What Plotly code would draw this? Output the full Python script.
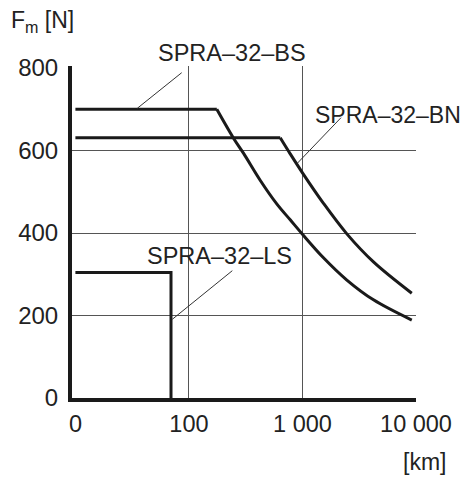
import plotly.graph_objects as go

# Data (distance in km, force in N)
# SPRA-32-BS: constant part, then decline
bs_flat_km = [10, 176]
bs_flat_n = [700, 700]
bs_curve_km = [176, 247, 303, 424, 596, 780, 1000, 1531, 2460, 4220, 9180]
bs_curve_n = [700, 630, 593, 528, 470, 432, 397, 340, 286, 238, 189]

# SPRA-32-BN
bn_flat_km = [10, 637]
bn_flat_n = [631, 631]
bn_curve_km = [637, 780, 1000, 1531, 2460, 4220, 9180]
bn_curve_n = [631, 592, 546, 472, 398, 330, 254]

# SPRA-32-LS
ls_km = [10, 69.5, 69.5]
ls_n = [304, 304, 0]

x_tickvals = [10, 100, 1000, 10000]
x_ticktext = ["0", "100", "1 000", "10 000"]
x_gridvals = [100, 1000]
y_tickvals = [0, 200, 400, 600, 800]
y_gridvals = [200, 400, 600]

FONT = "Liberation Sans, Arial, sans-serif"
TXT = "#222222"
LINE = "#1a1a1a"
GRID = "#555555"

fig = go.Figure()
for xs, ys in [(bs_flat_km, bs_flat_n), (bn_flat_km, bn_flat_n), (ls_km, ls_n)]:
    fig.add_trace(go.Scatter(x=xs, y=ys, mode="lines",
                             line=dict(color=LINE, width=3),
                             showlegend=False, hoverinfo="skip"))
for xs, ys in [(bs_curve_km, bs_curve_n), (bn_curve_km, bn_curve_n)]:
    fig.add_trace(go.Scatter(x=xs, y=ys, mode="lines",
                             line=dict(color=LINE, width=3, shape="spline", smoothing=1),
                             showlegend=False, hoverinfo="skip"))

OFF = 8  # page body margin
W, H = 468 - 2 * OFF, 484 - 2 * OFF
# plot area in window pixels: x 72..416, y 66..398
L = 72 - OFF
T = 66 - OFF
R = W - (416 - OFF)
B = H - (398 - OFF)

fig.update_layout(
    width=W, height=H,
    margin=dict(l=L, r=R, t=T, b=B, pad=0, autoexpand=False),
    paper_bgcolor="white", plot_bgcolor="white",
    font=dict(family=FONT, size=23, color=TXT),
    showlegend=False,
)
fig.update_xaxes(
    type="log", range=[0.97, 4.0], automargin=False,
    tickvals=x_tickvals, ticktext=x_ticktext,
    showgrid=False,
    minor=dict(tickvals=x_gridvals, showgrid=True, gridcolor=GRID, gridwidth=1, ticks=""),
    showline=True, linecolor=LINE, linewidth=4,
    ticks="", zeroline=False, ticklabelstandoff=2,
    tickfont=dict(size=23.5, color=TXT, family=FONT),
)
fig.update_yaxes(
    range=[0, 805], automargin=False,
    tickvals=y_tickvals,
    showgrid=False,
    minor=dict(tickvals=y_gridvals, showgrid=True, gridcolor=GRID, gridwidth=1, ticks=""),
    showline=True, linecolor=LINE, linewidth=4,
    ticks="", zeroline=False, ticklabelstandoff=5,
    tickfont=dict(size=24, color=TXT, family=FONT),
)

pw = W - L - R
ph = H - T - B
def px(X):
    return (X - OFF - L) / pw
def py(Y):
    return (H - B - (Y - OFF)) / ph

# leader lines (window pixel coords)
for (xa, ya, xb, yb) in [(181.7, 72.7, 137.3, 108.3),
                         (341, 117.7, 297.3, 163.3),
                         (232.3, 270.7, 172.3, 319.3)]:
    fig.add_shape(type="line", xref="paper", yref="paper",
                  x0=px(xa), y0=py(ya), x1=px(xb), y1=py(yb),
                  line=dict(color="#333333", width=1))

labels = [("SPRA–32–BS", 232, 53, 23.5), ("SPRA–32–BN", 387.5, 115, 23), ("SPRA–32–LS", 219, 256, 23.5)]
for t, X, Y, s in labels:
    fig.add_annotation(text=t, xref="paper", yref="paper", x=px(X), y=py(Y),
                       xanchor="center", yanchor="middle", showarrow=False,
                       font=dict(size=s, color=TXT, family=FONT))

fig.add_annotation(text="F<sub>m</sub> [N]", xref="paper", yref="paper",
                   x=px(9), y=py(22), xanchor="left", yanchor="middle",
                   showarrow=False, font=dict(size=23, color=TXT, family=FONT))
fig.add_annotation(text="[km]", xref="paper", yref="paper",
                   x=px(448), y=py(462), xanchor="right", yanchor="middle",
                   showarrow=False, font=dict(size=23, color=TXT, family=FONT))

fig.write_html("out.html")
